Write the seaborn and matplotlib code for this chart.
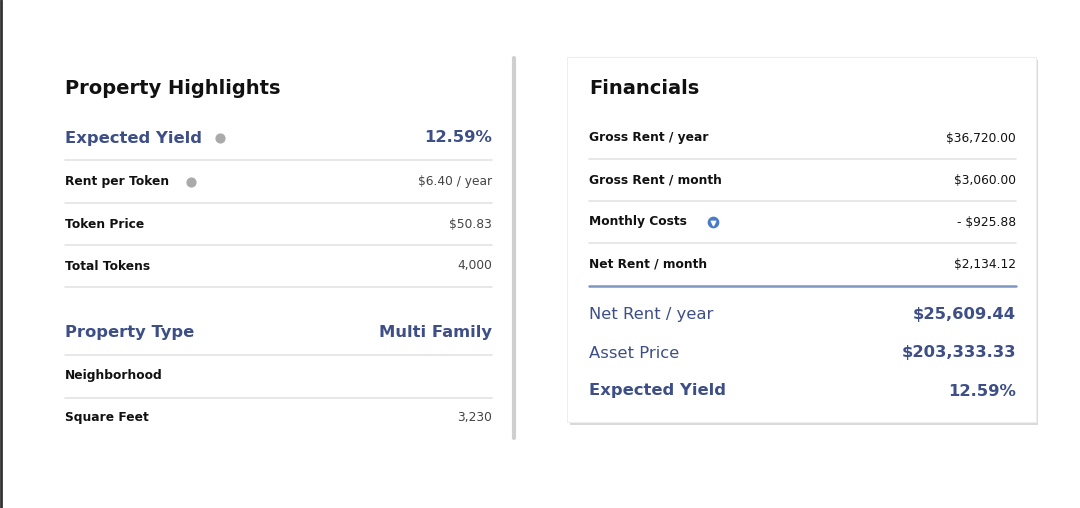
import matplotlib
matplotlib.use("Agg")
import matplotlib.pyplot as plt
import seaborn as sns
from matplotlib.patches import Rectangle

sns.set_theme(style="white", font="DejaVu Sans")

BLUE = "#3d4f86"
DARK = "#111111"
GRID = "#e3e3e3"

# left card
highlight_labels = ["Rent per Token", "Token Price", "Total Tokens"]
highlight_values = ["$6.40 / year", "$50.83", "4,000"]
type_labels = ["Neighborhood", "Square Feet"]
type_values = ["", "3,230"]
expected_yield = "12.59%"
property_type = "Multi Family"

# right card
fin_labels = ["Gross Rent / year", "Gross Rent / month", "Monthly Costs", "Net Rent / month"]
fin_values = ["$36,720.00", "$3,060.00", "- $925.88", "$2,134.12"]
summary_labels = ["Net Rent / year", "Asset Price", "Expected Yield"]
summary_values = ["$25,609.44", "$203,333.33", "12.59%"]

TITLE, BIG, SMALL = 14, 11.8, 8.8

fig = plt.figure(figsize=(10.8, 5.08), dpi=100)
ax = fig.add_axes([0, 0, 1, 1])
ax.set_xlim(0, 1080)
ax.set_ylim(508, 0)
ax.axis("off")

# frame edge on the left and divider
ax.plot([1, 1], [0, 508], color="#333333", lw=2)
ax.plot([514, 514], [58, 438], color="#cfcfcf", lw=3)

# right card with shadow
ax.add_patch(Rectangle((570, 60), 468, 365, facecolor="#d9d9d9", edgecolor="none", zorder=0))
ax.add_patch(Rectangle((567, 57), 469, 365, facecolor="white", edgecolor="#eeeeee", lw=0.8, zorder=1))

# ---- left panel ----
lx, rx = 65, 492
ax.text(lx, 88, "Property Highlights", fontsize=TITLE, fontweight="bold", color=DARK, va="center")
ax.text(lx, 138, "Expected Yield", fontsize=BIG, fontweight="bold", color=BLUE, va="center")
ax.scatter([220], [138], s=40, color="#aaaaaa", zorder=3)
ax.text(rx, 138, expected_yield, fontsize=BIG, fontweight="bold", color=BLUE, va="center", ha="right")
ax.plot([lx, rx], [160, 160], color=GRID, lw=1.2)
for i, (lab, val) in enumerate(zip(highlight_labels, highlight_values)):
    y = 182 + 42 * i
    ax.text(lx, y, lab, fontsize=SMALL, fontweight="bold", color=DARK, va="center")
    ax.text(rx, y, val, fontsize=SMALL, color="#444444", va="center", ha="right")
    ax.plot([lx, rx], [y + 21, y + 21], color=GRID, lw=1.2)
ax.scatter([191], [182], s=40, color="#aaaaaa", zorder=3)

ax.text(lx, 332, "Property Type", fontsize=BIG, fontweight="bold", color=BLUE, va="center")
ax.text(rx, 332, property_type, fontsize=BIG, fontweight="bold", color=BLUE, va="center", ha="right")
ax.plot([lx, rx], [355, 355], color=GRID, lw=1.2)
for i, (lab, val) in enumerate(zip(type_labels, type_values)):
    y = 376 + 42 * i
    ax.text(lx, y, lab, fontsize=SMALL, fontweight="bold", color=DARK, va="center")
    ax.text(rx, y, val, fontsize=SMALL, color="#444444", va="center", ha="right")
    if i == 0:
        ax.plot([lx, rx], [y + 22, y + 22], color=GRID, lw=1.2)

# ---- right panel ----
fx, frx = 589, 1016
ax.text(fx, 88, "Financials", fontsize=TITLE, fontweight="bold", color=DARK, va="center", zorder=3)
for i, (lab, val) in enumerate(zip(fin_labels, fin_values)):
    y = 138 + 42 * i
    ax.text(fx, y, lab, fontsize=SMALL, fontweight="bold", color=DARK, va="center", zorder=3)
    ax.text(frx, y, val, fontsize=SMALL, color=DARK, va="center", ha="right", zorder=3)
    if i < 3:
        ax.plot([fx, frx], [y + 21, y + 21], color=GRID, lw=1.2, zorder=3)
ax.scatter([713], [222], s=55, color="#4a7bc4", zorder=3)
ax.scatter([713], [222.8], s=10, marker="v", color="white", zorder=4)
ax.plot([fx, frx], [286, 286], color="#7d97c2", lw=1.8, zorder=3)
for i, (lab, val) in enumerate(zip(summary_labels, summary_values)):
    y = 315 + 38 * i
    weight = "bold" if i == 2 else "normal"
    ax.text(fx, y, lab, fontsize=BIG, fontweight=weight, color=BLUE, va="center", zorder=3)
    ax.text(frx, y, val, fontsize=BIG, fontweight="bold", color=BLUE, va="center", ha="right", zorder=3)

fig.savefig("out.png", dpi=100, facecolor="white")
